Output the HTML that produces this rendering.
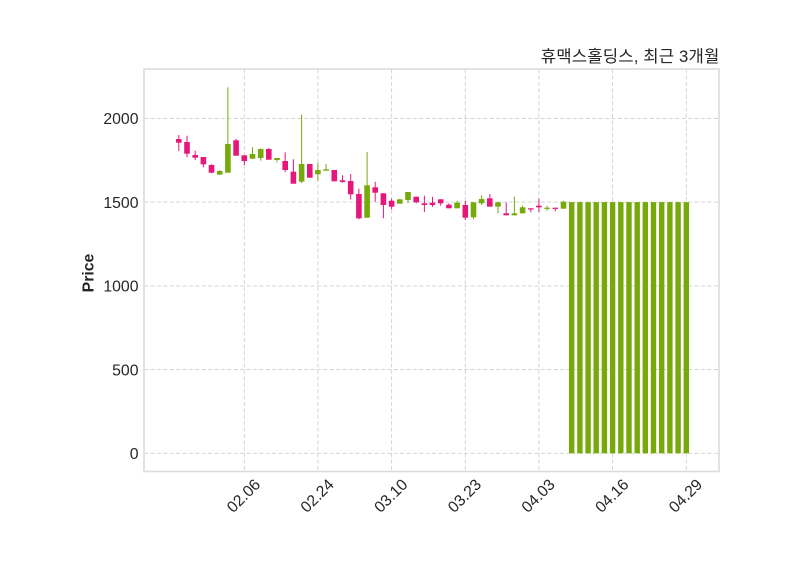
<!DOCTYPE html>
<html><head><meta charset="utf-8"><style>
html,body{margin:0;padding:0;background:#fff;}
svg{display:block;}
text{font-family:"Liberation Sans","DejaVu Sans",sans-serif;fill:#262626;}
</style></head><body>
<svg width="800" height="575" viewBox="0 0 800 575" xmlns="http://www.w3.org/2000/svg">
<rect width="800" height="575" fill="#fff"/>
<g stroke="#cfcfcf" stroke-width="0.9" stroke-dasharray="4,2.4" fill="none">
<line x1="144" y1="453.3" x2="719" y2="453.3"/>
<line x1="144" y1="369.6" x2="719" y2="369.6"/>
<line x1="144" y1="285.9" x2="719" y2="285.9"/>
<line x1="144" y1="202.1" x2="719" y2="202.1"/>
<line x1="144" y1="118.4" x2="719" y2="118.4"/>
<line x1="244.3" y1="69" x2="244.3" y2="471"/>
<line x1="317.9" y1="69" x2="317.9" y2="471"/>
<line x1="391.6" y1="69" x2="391.6" y2="471"/>
<line x1="465.3" y1="69" x2="465.3" y2="471"/>
<line x1="538.9" y1="69" x2="538.9" y2="471"/>
<line x1="612.6" y1="69" x2="612.6" y2="471"/>
<line x1="686.3" y1="69" x2="686.3" y2="471"/>
</g>
<g id="candles">
<!-- P = pink, G = green -->
<g stroke="#e5177b" fill="#e5177b" stroke-width="1">
<line x1="178.8" y1="135" x2="178.8" y2="151"/><rect x="176" y="139" width="5.6" height="3.7" stroke="none"/>
<line x1="187.0" y1="135.7" x2="187.0" y2="157.3"/><rect x="184.2" y="142" width="5.6" height="11.7" stroke="none"/>
<line x1="195.2" y1="150.7" x2="195.2" y2="160"/><rect x="192.4" y="155" width="5.6" height="2.7" stroke="none"/>
<line x1="203.4" y1="157" x2="203.4" y2="167.3"/><rect x="200.6" y="157" width="5.6" height="7.3" stroke="none"/>
<line x1="211.5" y1="164.3" x2="211.5" y2="173.3"/><rect x="208.7" y="165" width="5.6" height="7.7" stroke="none"/>
<line x1="236.1" y1="138.7" x2="236.1" y2="155.7"/><rect x="233.3" y="140.3" width="5.6" height="15.4" stroke="none"/>
<line x1="244.3" y1="155.3" x2="244.3" y2="165"/><rect x="241.5" y="155.3" width="5.6" height="5.7" stroke="none"/>
<line x1="268.8" y1="148" x2="268.8" y2="159.7"/><rect x="266" y="149" width="5.6" height="10.7" stroke="none"/>
<line x1="285.2" y1="152.3" x2="285.2" y2="172.3"/><rect x="282.4" y="161" width="5.6" height="9" stroke="none"/>
<line x1="293.4" y1="159.3" x2="293.4" y2="183.7"/><rect x="290.6" y="171.7" width="5.6" height="12" stroke="none"/>
<line x1="309.8" y1="164" x2="309.8" y2="177.7"/><rect x="307" y="164" width="5.6" height="13.7" stroke="none"/>
<line x1="334.3" y1="170" x2="334.3" y2="181.3"/><rect x="331.5" y="170" width="5.6" height="11.3" stroke="none"/>
<line x1="342.5" y1="175.3" x2="342.5" y2="182.7"/><rect x="339.7" y="180.3" width="5.6" height="1.6" stroke="none"/>
<line x1="350.7" y1="174" x2="350.7" y2="199.3"/><rect x="347.9" y="181" width="5.6" height="13.3" stroke="none"/>
<line x1="358.9" y1="188.7" x2="358.9" y2="219.3"/><rect x="356.1" y="194" width="5.6" height="24.3" stroke="none"/>
<line x1="375.2" y1="181.7" x2="375.2" y2="201.7"/><rect x="372.4" y="187.3" width="5.6" height="5.4" stroke="none"/>
<line x1="383.4" y1="193.3" x2="383.4" y2="218.3"/><rect x="380.6" y="193.3" width="5.6" height="11.7" stroke="none"/>
<line x1="391.6" y1="198.7" x2="391.6" y2="209.3"/><rect x="388.8" y="200.7" width="5.6" height="6" stroke="none"/>
<line x1="416.2" y1="196.7" x2="416.2" y2="203.3"/><rect x="413.4" y="196.7" width="5.6" height="5.6" stroke="none"/>
<line x1="424.4" y1="195.7" x2="424.4" y2="212"/><rect x="421.6" y="203.3" width="5.6" height="1.7" stroke="none"/>
<line x1="432.5" y1="196.7" x2="432.5" y2="206.7"/><rect x="429.7" y="202.7" width="5.6" height="2.3" stroke="none"/>
<line x1="440.7" y1="199.3" x2="440.7" y2="205.7"/><rect x="437.9" y="199.3" width="5.6" height="4" stroke="none"/>
<line x1="448.9" y1="203.3" x2="448.9" y2="208.3"/><rect x="446.1" y="204.7" width="5.6" height="3.6" stroke="none"/>
<line x1="465.3" y1="201" x2="465.3" y2="220"/><rect x="462.5" y="205" width="5.6" height="12.7" stroke="none"/>
<line x1="489.8" y1="194" x2="489.8" y2="206.7"/><rect x="487" y="198.3" width="5.6" height="8.4" stroke="none"/>
<line x1="506.2" y1="202.3" x2="506.2" y2="215.3"/><rect x="503.4" y="213.3" width="5.6" height="2" stroke="none"/>
<line x1="530.8" y1="208.3" x2="530.8" y2="212.3"/><rect x="528" y="208.3" width="5.6" height="1.2" stroke="none"/>
<line x1="538.9" y1="198.7" x2="538.9" y2="212"/><rect x="536.1" y="205.7" width="5.6" height="1.6" stroke="none"/>
<line x1="555.3" y1="207.7" x2="555.3" y2="211.3"/><rect x="552.5" y="207.7" width="5.6" height="1.2" stroke="none"/>
</g>
<g stroke="#76aa0b" fill="#76aa0b" stroke-width="1">
<line x1="219.7" y1="170" x2="219.7" y2="174.7"/><rect x="216.9" y="171" width="5.6" height="3.7" stroke="none"/>
<line x1="227.9" y1="87.3" x2="227.9" y2="172.7"/><rect x="225.1" y="144" width="5.6" height="28.7" stroke="none"/>
<line x1="252.5" y1="147.3" x2="252.5" y2="158.7"/><rect x="249.7" y="154" width="5.6" height="4.7" stroke="none"/>
<line x1="260.7" y1="148.3" x2="260.7" y2="160.7"/><rect x="257.9" y="149" width="5.6" height="9" stroke="none"/>
<line x1="277.0" y1="158" x2="277.0" y2="162.3"/><rect x="274.2" y="158" width="5.6" height="2" stroke="none"/>
<line x1="301.6" y1="114.7" x2="301.6" y2="183"/><rect x="298.8" y="164" width="5.6" height="17.7" stroke="none"/>
<line x1="317.9" y1="162.7" x2="317.9" y2="180.7"/><rect x="315.1" y="170" width="5.6" height="4.3" stroke="none"/>
<line x1="326.1" y1="164" x2="326.1" y2="170.7"/><rect x="323.3" y="169.3" width="5.6" height="1.4" stroke="none"/>
<line x1="367.1" y1="152" x2="367.1" y2="217.7"/><rect x="364.3" y="185.3" width="5.6" height="32.4" stroke="none"/>
<line x1="399.8" y1="199" x2="399.8" y2="203.7"/><rect x="397" y="199.3" width="5.6" height="4.4" stroke="none"/>
<line x1="408.0" y1="192" x2="408.0" y2="203"/><rect x="405.2" y="192" width="5.6" height="8" stroke="none"/>
<line x1="457.1" y1="200.7" x2="457.1" y2="208.3"/><rect x="454.3" y="202.7" width="5.6" height="5.6" stroke="none"/>
<line x1="473.5" y1="202.3" x2="473.5" y2="219.3"/><rect x="470.7" y="202.3" width="5.6" height="15" stroke="none"/>
<line x1="481.6" y1="195.3" x2="481.6" y2="205"/><rect x="478.8" y="199" width="5.6" height="4.3" stroke="none"/>
<line x1="498.0" y1="202.3" x2="498.0" y2="213.3"/><rect x="495.2" y="202.3" width="5.6" height="4.4" stroke="none"/>
<line x1="514.4" y1="196.7" x2="514.4" y2="215.3"/><rect x="511.6" y="213.3" width="5.6" height="2" stroke="none"/>
<line x1="522.6" y1="205.7" x2="522.6" y2="213.3"/><rect x="519.8" y="207.3" width="5.6" height="6" stroke="none"/>
<line x1="547.1" y1="205.7" x2="547.1" y2="210.7"/><rect x="544.3" y="207.7" width="5.6" height="1.2" stroke="none"/>
<line x1="563.5" y1="200.7" x2="563.5" y2="208.7"/><rect x="560.7" y="201.7" width="5.6" height="7" stroke="none"/>
<g stroke="none">
<rect x="569.0" y="202.1" width="5.4" height="251.2"/>
<rect x="577.2" y="202.1" width="5.4" height="251.2"/>
<rect x="585.4" y="202.1" width="5.4" height="251.2"/>
<rect x="593.5" y="202.1" width="5.4" height="251.2"/>
<rect x="601.7" y="202.1" width="5.4" height="251.2"/>
<rect x="609.9" y="202.1" width="5.4" height="251.2"/>
<rect x="618.1" y="202.1" width="5.4" height="251.2"/>
<rect x="626.3" y="202.1" width="5.4" height="251.2"/>
<rect x="634.5" y="202.1" width="5.4" height="251.2"/>
<rect x="642.6" y="202.1" width="5.4" height="251.2"/>
<rect x="650.8" y="202.1" width="5.4" height="251.2"/>
<rect x="659.0" y="202.1" width="5.4" height="251.2"/>
<rect x="667.2" y="202.1" width="5.4" height="251.2"/>
<rect x="675.4" y="202.1" width="5.4" height="251.2"/>
<rect x="683.6" y="202.1" width="5.4" height="251.2"/>
</g>
</g>
</g>
<rect x="144" y="69" width="575" height="402.5" fill="none" stroke="#dddddd" stroke-width="1.7"/>
<g font-size="15.8" text-anchor="end">
<text x="138.5" y="459">0</text>
<text x="138.5" y="375.3">500</text>
<text x="138.5" y="291.6">1000</text>
<text x="138.5" y="207.8">1500</text>
<text x="138.5" y="124.1">2000</text>
</g>
<g font-size="15.8" text-anchor="middle">
<text transform="translate(243.3,495.5) rotate(-45)" dy="5.6">02.06</text>
<text transform="translate(316.9,495.5) rotate(-45)" dy="5.6">02.24</text>
<text transform="translate(390.6,495.5) rotate(-45)" dy="5.6">03.10</text>
<text transform="translate(464.3,495.5) rotate(-45)" dy="5.6">03.23</text>
<text transform="translate(537.9,495.5) rotate(-45)" dy="5.6">04.03</text>
<text transform="translate(611.6,495.5) rotate(-45)" dy="5.6">04.16</text>
<text transform="translate(685.3,495.5) rotate(-45)" dy="5.6">04.29</text>
</g>
<text transform="translate(93.5,273) rotate(-90)" text-anchor="middle" font-size="15.8" font-weight="bold">Price</text>
<text x="719.3" y="62" text-anchor="end" font-size="16.7" textLength="178.5" style="font-family:'Liberation Sans','Noto Sans CJK KR',sans-serif">휴맥스홀딩스, 최근 3개월</text>
</svg>
</body></html>
